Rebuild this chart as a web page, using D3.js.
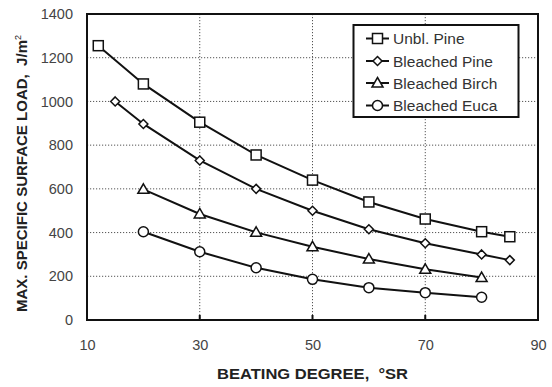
<!DOCTYPE html>
<html>
<head>
<meta charset="utf-8">
<script src="https://cdn.jsdelivr.net/npm/d3@7"></script>
<style>
  html, body { margin: 0; padding: 0; background: #fff; }
  svg { display: block; font-family: "Liberation Sans", Arial, Helvetica, sans-serif; }
</style>
</head>
<body>
<svg id="chart" width="552" height="387"></svg>
<script>
// Beating degree (°SR) for each pulp series
const xUnblPine = [12, 20, 30, 40, 50, 60, 70, 80, 85];
const yUnblPine = [1255, 1080, 905, 755, 640, 540, 462, 404, 381];

const xBlPine = [15, 20, 30, 40, 50, 60, 70, 80, 85];
const yBlPine = [1000, 897, 730, 600, 500, 415, 351, 300, 274];

const xBlBirch = [20, 30, 40, 50, 60, 70, 80];
const yBlBirch = [598, 485, 401, 335, 279, 232, 194];

const xBlEuca = [20, 30, 40, 50, 60, 70, 80];
const yBlEuca = [404, 312, 239, 186, 148, 125, 104];

const seriesNames = ["Unbl. Pine", "Bleached Pine", "Bleached Birch", "Bleached Euca"];
const seriesSymbols = ["square", "diamond", "triangle", "circle"];

const xTicks = [10, 30, 50, 70, 90];
const yTicks = [0, 200, 400, 600, 800, 1000, 1200, 1400];
const xGrid = [30, 50, 70];
const yGrid = [200, 400, 600, 800, 1000, 1200];

const series = [
  { name: seriesNames[0], sym: seriesSymbols[0], xs: xUnblPine, ys: yUnblPine },
  { name: seriesNames[1], sym: seriesSymbols[1], xs: xBlPine, ys: yBlPine },
  { name: seriesNames[2], sym: seriesSymbols[2], xs: xBlBirch, ys: yBlBirch },
  { name: seriesNames[3], sym: seriesSymbols[3], xs: xBlEuca, ys: yBlEuca }
];

const plot = { left: 87, top: 14, right: 538, bottom: 320 };
const svg = d3.select("#chart");

const x = d3.scaleLinear().domain([10, 90]).range([plot.left, plot.right]);
const y = d3.scaleLinear().domain([0, 1400]).range([plot.bottom, plot.top]);

// dotted grid
const grid = svg.append("g");
grid.selectAll("line.gx").data(xGrid).join("line")
  .attr("x1", d => x(d)).attr("x2", d => x(d))
  .attr("y1", plot.top).attr("y2", plot.bottom)
  .attr("stroke", "#555").attr("stroke-width", 1).attr("stroke-dasharray", "1.2,1.8");
grid.selectAll("line.gy").data(yGrid).join("line")
  .attr("x1", plot.left).attr("x2", plot.right)
  .attr("y1", d => y(d)).attr("y2", d => y(d))
  .attr("stroke", "#555").attr("stroke-width", 1).attr("stroke-dasharray", "1.2,1.8");

// x axis: inward ticks at grid positions, labels below
const xAxis = d3.axisBottom(x).tickValues(xTicks).tickSize(0).tickPadding(20).tickFormat(d3.format("d"));
const gx = svg.append("g").attr("transform", `translate(0,${plot.bottom})`).call(xAxis);
gx.select(".domain").remove();
gx.selectAll("text").attr("fill", "#444").attr("font-size", 14.5);
svg.selectAll("line.xt").data(xGrid).join("line")
  .attr("x1", d => x(d)).attr("x2", d => x(d))
  .attr("y1", plot.bottom).attr("y2", plot.bottom - 5)
  .attr("stroke", "#111").attr("stroke-width", 2);

// y axis labels
const yAxis = d3.axisLeft(y).tickValues(yTicks).tickSize(0).tickPadding(14).tickFormat(d3.format("d"));
const gy = svg.append("g").attr("transform", `translate(${plot.left},0)`).call(yAxis);
gy.select(".domain").remove();
gy.selectAll("text").attr("fill", "#444").attr("font-size", 14.5);

// frame
svg.append("rect")
  .attr("x", plot.left).attr("y", plot.top)
  .attr("width", plot.right - plot.left).attr("height", plot.bottom - plot.top)
  .attr("fill", "none").attr("stroke", "#111").attr("stroke-width", 2);

// markers
function drawSymbol(g, sym, cx, cy) {
  if (sym === "square") {
    g.append("rect").attr("x", cx - 5).attr("y", cy - 5).attr("width", 10).attr("height", 10)
      .attr("fill", "#fff").attr("stroke", "#111").attr("stroke-width", 1.5);
  } else if (sym === "diamond") {
    g.append("path").attr("d", `M${cx},${cy - 4.5}L${cx + 4.5},${cy}L${cx},${cy + 4.5}L${cx - 4.5},${cy}Z`)
      .attr("fill", "#fff").attr("stroke", "#111").attr("stroke-width", 1.5);
  } else if (sym === "triangle") {
    g.append("path").attr("d", `M${cx},${cy - 5.5}L${cx + 5.5},${cy + 4}L${cx - 5.5},${cy + 4}Z`)
      .attr("fill", "#fff").attr("stroke", "#111").attr("stroke-width", 1.5);
  } else {
    g.append("circle").attr("cx", cx).attr("cy", cy).attr("r", 5)
      .attr("fill", "#fff").attr("stroke", "#111").attr("stroke-width", 1.5);
  }
}

const line = d3.line().x(d => x(d[0])).y(d => y(d[1]));
series.forEach(s => {
  const pts = s.xs.map((v, i) => [v, s.ys[i]]);
  svg.append("path").datum(pts).attr("d", line)
    .attr("fill", "none").attr("stroke", "#111").attr("stroke-width", 2);
  const g = svg.append("g");
  pts.forEach(p => drawSymbol(g, s.sym, x(p[0]), y(p[1])));
});

// legend
const lg = svg.append("g");
lg.append("rect").attr("x", 353.5).attr("y", 25).attr("width", 165).attr("height", 92)
  .attr("fill", "#fff").attr("stroke", "#111").attr("stroke-width", 2);
const legendY = [38.5, 61, 83, 105.5];
series.forEach((s, i) => {
  const ly = legendY[i];
  lg.append("line").attr("x1", 366).attr("x2", 389).attr("y1", ly).attr("y2", ly)
    .attr("stroke", "#111").attr("stroke-width", 2);
  drawSymbol(lg, s.sym, 377.5, ly);
  lg.append("text").attr("x", 393).attr("y", ly).attr("dy", "0.36em")
    .attr("font-size", 15.5).attr("fill", "#333").text(s.name);
});

// axis titles
svg.append("text").attr("x", 217).attr("y", 379)
  .attr("font-size", 14.5).attr("font-weight", "bold").attr("fill", "#222")
  .attr("textLength", 191).attr("lengthAdjust", "spacingAndGlyphs")
  .attr("xml:space", "preserve").text("BEATING DEGREE,  °SR");

const yt = svg.append("text").attr("transform", "translate(27,312) rotate(-90)")
  .attr("font-size", 14).attr("font-weight", "bold").attr("fill", "#222")
  .attr("xml:space", "preserve");
yt.append("tspan").attr("textLength", 272).attr("lengthAdjust", "spacingAndGlyphs")
  .text("MAX. SPECIFIC SURFACE LOAD,  J/m");
yt.append("tspan").attr("font-size", 9).attr("dy", -6).attr("font-weight", "normal").text("2");
</script>
</body>
</html>
